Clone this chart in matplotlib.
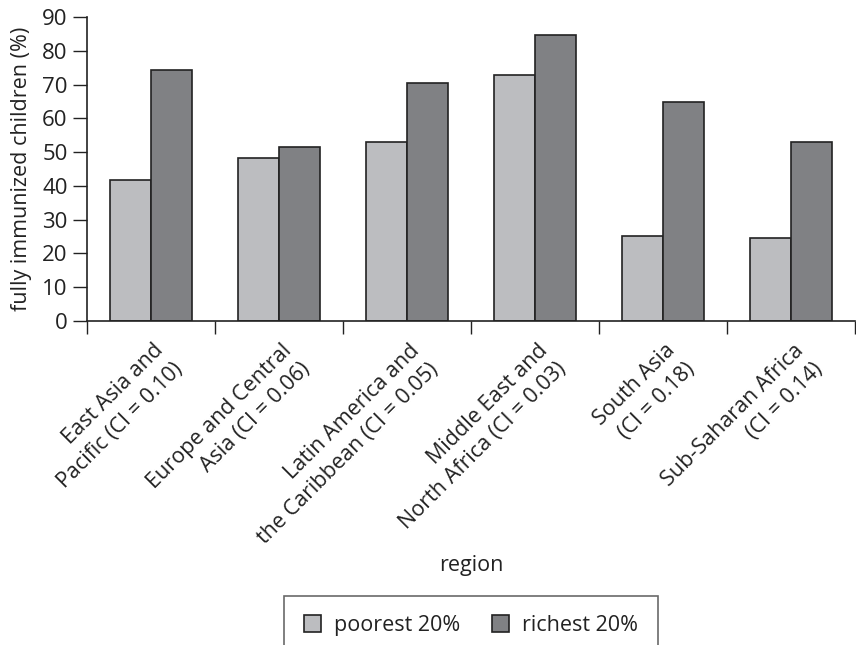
import matplotlib
matplotlib.use("Agg")
import matplotlib.pyplot as plt
import matplotlib.transforms as mtransforms
import numpy as np

plt.rcParams['font.family'] = ['Open Sans', 'DejaVu Sans']

# data
regions = [
    "East Asia and\nPacific (CI = 0.10)",
    "Europe and Central\nAsia (CI = 0.06)",
    "Latin America and\nthe Caribbean (CI = 0.05)",
    "Middle East and\nNorth Africa (CI = 0.03)",
    "South Asia\n(CI = 0.18)",
    "Sub-Saharan Africa\n(CI = 0.14)",
]
poorest = [41.7, 48.2, 53.1, 72.7, 25.3, 24.5]
richest = [74.3, 51.4, 70.5, 84.6, 64.8, 52.9]

light = "#bcbdc0"
dark = "#808184"
edge = "#222222"
fs = 15.5

fig = plt.figure(figsize=(8.56, 6.45), dpi=100)
ax = fig.add_axes([87/856, 1-321/645, 768/856, 304/645])

x = np.arange(len(regions))
w = 0.32
ax.bar(x - w/2, poorest, w, color=light, edgecolor=edge, linewidth=1.2, label="poorest 20%")
ax.bar(x + w/2, richest, w, color=dark, edgecolor=edge, linewidth=1.2, label="richest 20%")

ax.set_xlim(-0.5, len(regions) - 0.5)
ax.set_ylim(0, 90)
ax.set_yticks(np.arange(0, 91, 10))
ax.tick_params(axis='y', direction='out', length=10, width=1, labelsize=16, pad=4, colors="#222222")

# group boundaries as major ticks, labels on minor ticks
ax.set_xticks(np.arange(-0.5, len(regions)), labels=[])
ax.set_xticks(x, labels=regions, minor=True)
ax.tick_params(axis='x', which='major', direction='out', length=9, width=1, color="#222222")
ax.tick_params(axis='x', which='minor', length=0, pad=0, labelsize=fs)
offset = mtransforms.ScaledTranslation(2/100, -19/100, fig.dpi_scale_trans)
for lab in ax.get_xticklabels(minor=True):
    lab.set_rotation(45)
    lab.set_ha('right')
    lab.set_va('top')
    lab.set_rotation_mode('anchor')
    lab.set_multialignment('right')
    lab.set_linespacing(1.35)
    lab.set_color("#222222")
    lab.set_transform(lab.get_transform() + offset)

for s in ['top', 'right']:
    ax.spines[s].set_visible(False)
for s in ['left', 'bottom']:
    ax.spines[s].set_color("#222222")
    ax.spines[s].set_linewidth(1.2)

ax.set_ylabel("fully immunized children (%)", fontsize=fs, labelpad=7, color="#222222")
fig.text(471/856, 1-566/645, "region", ha='center', va='center', fontsize=fs, color="#222222")

leg = fig.legend(loc='upper center', bbox_to_anchor=(471/856, 1-585/645), ncol=2,
                 fontsize=fs, frameon=True, fancybox=False, edgecolor="#444444",
                 handlelength=0.8, handleheight=0.8, columnspacing=1.5, borderpad=0.9,
                 handletextpad=0.6, labelcolor="#222222")
leg.get_frame().set_linewidth(1.2)

fig.savefig("out.png", dpi=100)
